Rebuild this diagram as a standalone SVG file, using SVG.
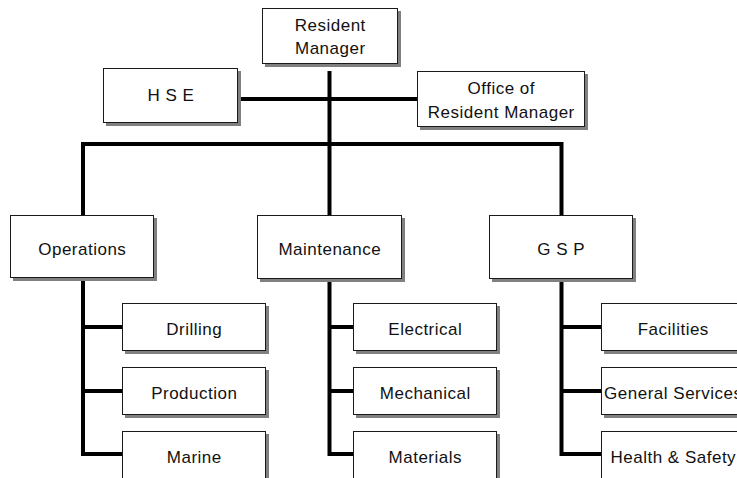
<svg xmlns="http://www.w3.org/2000/svg" width="737" height="478" viewBox="0 0 737 478">
  <style>
    .box { fill: #ffffff; stroke: #1a1a1a; stroke-width: 1; }
    .shadow { fill: #808080; }
    .lbl { font-family: "Liberation Sans", Arial, sans-serif; font-size: 17px; letter-spacing: 0.5px; fill: #111111; text-anchor: middle; }
    .link { fill: none; stroke: #000000; stroke-width: 4; stroke-linejoin: miter; }
  </style>
  <rect width="737" height="478" fill="#ffffff"/>

  <!-- connectors -->
  <g id="connectors">
    <path class="link" d="M329.5 71 V215"/>
    <path class="link" d="M238 99 H417"/>
    <path class="link" d="M83 215 V144 H561.5 V215"/>
    <path class="link" d="M83 278 V454 H122 M83 327 H122 M83 391 H122"/>
    <path class="link" d="M329.5 279 V454 H353 M329.5 327 H353 M329.5 391 H353"/>
    <path class="link" d="M561.5 279 V454 H601 M561.5 327 H601 M561.5 391 H601"/>
  </g>

  <!-- top level -->
  <g id="resident-manager">
    <rect class="shadow" x="265" y="11" width="136" height="56"/>
    <rect class="box" x="262.5" y="8.5" width="135" height="55"/>
    <text class="lbl" x="330.3" y="31">Resident</text>
    <text class="lbl" x="330.3" y="54">Manager</text>
  </g>
  <g id="hse">
    <rect class="shadow" x="106" y="71" width="135" height="55"/>
    <rect class="box" x="103.5" y="68.5" width="134" height="54"/>
    <text class="lbl" x="171" y="101">H S E</text>
  </g>
  <g id="office-of-resident-manager">
    <rect class="shadow" x="420" y="74" width="168" height="56"/>
    <rect class="box" x="417.5" y="71.5" width="167" height="55"/>
    <text class="lbl" x="501.3" y="94">Office of</text>
    <text class="lbl" x="501.3" y="118">Resident Manager</text>
  </g>

  <!-- departments -->
  <g id="operations">
    <rect class="shadow" x="13" y="218" width="144" height="63"/>
    <rect class="box" x="10.5" y="215.5" width="143" height="62"/>
    <text class="lbl" x="82.3" y="255">Operations</text>
  </g>
  <g id="maintenance">
    <rect class="shadow" x="260" y="218" width="145" height="64"/>
    <rect class="box" x="257.5" y="215.5" width="144" height="63"/>
    <text class="lbl" x="329.8" y="255">Maintenance</text>
  </g>
  <g id="gsp">
    <rect class="shadow" x="492" y="218" width="144" height="64"/>
    <rect class="box" x="489.5" y="215.5" width="143" height="63"/>
    <text class="lbl" x="561.3" y="255">G S P</text>
  </g>

  <!-- operations sections -->
  <g id="drilling">
    <rect class="shadow" x="125" y="306" width="144" height="48"/>
    <rect class="box" x="122.5" y="303.5" width="143" height="47"/>
    <text class="lbl" x="194.3" y="335">Drilling</text>
  </g>
  <g id="production">
    <rect class="shadow" x="125" y="370" width="144" height="48"/>
    <rect class="box" x="122.5" y="367.5" width="143" height="47"/>
    <text class="lbl" x="194.3" y="399">Production</text>
  </g>
  <g id="marine">
    <rect class="shadow" x="125" y="434" width="144" height="48"/>
    <rect class="box" x="122.5" y="431.5" width="143" height="50"/>
    <text class="lbl" x="194.3" y="463">Marine</text>
  </g>

  <!-- maintenance sections -->
  <g id="electrical">
    <rect class="shadow" x="356" y="306" width="144" height="48"/>
    <rect class="box" x="353.5" y="303.5" width="143" height="47"/>
    <text class="lbl" x="425.3" y="335">Electrical</text>
  </g>
  <g id="mechanical">
    <rect class="shadow" x="356" y="370" width="144" height="48"/>
    <rect class="box" x="353.5" y="367.5" width="143" height="47"/>
    <text class="lbl" x="425.3" y="399">Mechanical</text>
  </g>
  <g id="materials">
    <rect class="shadow" x="356" y="434" width="144" height="48"/>
    <rect class="box" x="353.5" y="431.5" width="143" height="50"/>
    <text class="lbl" x="425.3" y="463">Materials</text>
  </g>

  <!-- gsp sections -->
  <g id="facilities">
    <rect class="shadow" x="604" y="306" width="144" height="48"/>
    <rect class="box" x="601.5" y="303.5" width="143" height="47"/>
    <text class="lbl" x="673.3" y="335">Facilities</text>
  </g>
  <g id="general-services">
    <rect class="shadow" x="604" y="370" width="144" height="48"/>
    <rect class="box" x="601.5" y="367.5" width="143" height="47"/>
    <text class="lbl" x="673.3" y="399">General Services</text>
  </g>
  <g id="health-safety">
    <rect class="shadow" x="604" y="434" width="144" height="48"/>
    <rect class="box" x="601.5" y="431.5" width="143" height="50"/>
    <text class="lbl" x="673.3" y="463">Health &amp; Safety</text>
  </g>
</svg>
